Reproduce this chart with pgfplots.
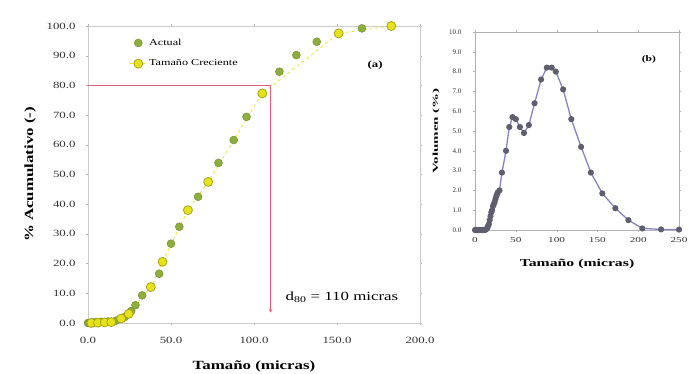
\documentclass[border=0pt]{standalone}
\usepackage{pgfplots}
\pgfplotsset{compat=1.18}
\usepackage{fontspec}
\setmainfont{Liberation Serif}
\newfontfamily\wa[FakeStretch=1.35]{Liberation Serif}
\newfontfamily\wb[FakeStretch=1.5]{Liberation Serif}
\newfontfamily\wc[FakeStretch=2.0]{Liberation Serif}
\definecolor{actgreen}{HTML}{8DAE3C}
\definecolor{crecyel}{HTML}{E6E21A}
\definecolor{redline}{HTML}{E0607A}
\definecolor{volline}{HTML}{8484C4}
\definecolor{volmark}{HTML}{5E5E6E}
\begin{document}
\begin{tikzpicture}[x=1pt,y=1pt]
\path[use as bounding box] (0,0) rectangle (700,374);
% ---------------- (a) ----------------
\begin{axis}[
  at={(88pt,51pt)}, anchor=south west,
  width=332pt, height=297pt, scale only axis,
  xmin=0, xmax=200, ymin=0, ymax=100,
  xtick={0,50,100,150,200}, ytick={0,10,...,100},
  xticklabels={0.0,50.0,100.0,150.0,200.0},
  yticklabels={0.0,10.0,20.0,30.0,40.0,50.0,60.0,70.0,80.0,90.0,100.0},
  /pgf/number format/assume math mode=true,
  tick label style={font=\wa\fontsize{9.5}{10}\selectfont, text=black!80},
  xticklabel style={yshift=-9pt},
  yticklabel style={xshift=-7pt},
  axis line style={black!20},
  tick style={black!30}, major tick length=2pt, tick align=outside,
  xlabel={\wa\bfseries Tamaño (micras)}, ylabel={\wa\bfseries \% Acumulativo (-)},
  label style={font=\fontsize{12.5}{14}\selectfont},
  xlabel style={yshift=-10pt}, ylabel style={yshift=4pt},
  legend style={at={(0.115,0.97)}, anchor=north west, draw=none, fill=none,
    font=\wa\fontsize{9}{10}\selectfont, row sep=9pt},
  legend cell align=left, clip=false,
]
\addplot[only marks, mark=*, mark size=4pt, color=actgreen!80!black, fill=actgreen] coordinates {
(0,0)(1,0)(2,0.1)(3,0.2)(5,0.3)(8,0.4)(12,0.5)(17,0.8)(22,2.0)(26,4.0)(28.6,6.0)(32.6,9.3)(42.9,16.6)(50,26.7)(55,32.4)(66.3,42.5)(78.6,53.9)(87.8,61.6)(95.5,69.4)(115.3,84.6)(125.5,90.2)(137.8,94.7)(165,99.2)
};
\addlegendentry{Actual}
\addplot[dashed, color=crecyel, line width=0.7pt, mark=*, mark size=4.5pt, mark options={solid, fill=crecyel, draw=crecyel!70!black}] coordinates {
(2,0)(6,0.1)(10,0.2)(14,0.3)(20,1.5)(24.5,3.1)(37.8,12.1)(44.9,20.6)(60.2,38)(72.4,47.5)(105,77.3)(151,97.5)(182.7,100)
};
\addlegendentry{Tamaño Creciente}
\addplot[redline, line width=0.6pt, -{stealth}] coordinates {(0,80)(110,80)(110,3.5)};
\node[font=\wa\fontsize{12.5}{14}\selectfont] at (axis cs:153,8.8) {d\textsubscript{80} = 110 micras};
\node[font=\wa\bfseries\fontsize{9.5}{10}\selectfont] at (axis cs:173,86.9) {(a)};
\end{axis}
% ---------------- (b) ----------------
\begin{axis}[
  at={(475pt,144pt)}, anchor=south west,
  width=204pt, height=198pt, scale only axis,
  xmin=0, xmax=250, ymin=0, ymax=10,
  xtick={0,50,100,150,200,250}, ytick={0,1,...,10},
  yticklabels={0.0,1.0,2.0,3.0,4.0,5.0,6.0,7.0,8.0,9.0,10.0},
  /pgf/number format/assume math mode=true,
  xticklabel style={font=\wb\fontsize{7.5}{8}\selectfont, text=black!80, yshift=-2pt},
  yticklabel style={font=\fontsize{7}{8}\selectfont, text=black!80, xshift=-8pt},
  axis line style={black!30},
  tick style={black!30}, major tick length=2pt, tick align=outside,
  xlabel={\wb\bfseries Tamaño (micras)}, ylabel={\wc\bfseries Volumen (\%)},
  xlabel style={font=\fontsize{10.5}{12}\selectfont, yshift=-10pt},
  ylabel style={font=\fontsize{7.5}{9}\selectfont, yshift=3pt},
  clip=false,
]
\addplot[color=volline, line width=1.3pt, mark=*, mark size=2.4pt, mark options={fill=volmark, draw=volmark}] coordinates {
(0,0)(0.5,0)(1,0)(1.5,0)(2,0)(3,0)(4,0)(5,0)(6,0)(7,0)(8,0)(9,0)(10,0)(11,0)(12,0)(13,0.02)(14,0.05)(15,0.1)(16,0.2)(17,0.3)(18,0.5)(19,0.7)(20,0.9)(21,1.0)(22,1.2)(23,1.3)(24,1.4)(25,1.55)(26,1.7)(27,1.8)(28,1.9)(30,2.0)(33,2.9)(38,4.0)(42,5.2)(46,5.7)(50,5.6)(55,5.2)(60,4.9)(66,5.3)(73,6.4)(81,7.6)(88,8.2)(94,8.2)(99,8.0)(108,7.1)(118,5.6)(130,4.2)(142,2.9)(156,1.85)(172,1.1)(188,0.5)(205,0.08)(228,0.03)(250,0.02)
};
\node[font=\wa\bfseries\fontsize{8.5}{9}\selectfont] at (axis cs:213,8.6) {(b)};
\end{axis}
\end{tikzpicture}
\end{document}
